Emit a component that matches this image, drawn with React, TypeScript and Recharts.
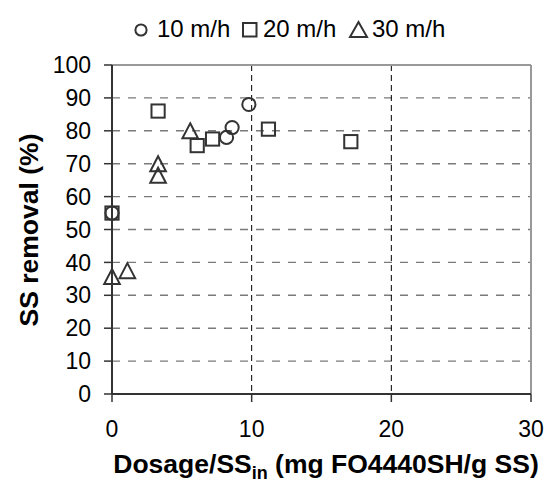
import React from "react";
import {
  ScatterChart,
  Scatter,
  XAxis,
  YAxis,
  CartesianGrid,
  ReferenceLine,
} from "recharts";

const xTicks = [0, 10, 20, 30];
const yTicks = [0, 10, 20, 30, 40, 50, 60, 70, 80, 90, 100];
const seriesNames = ["10 m/h", "20 m/h", "30 m/h"];

const series10 = [
  { x: 0, y: 55 },
  { x: 8.2, y: 78 },
  { x: 8.6, y: 81 },
  { x: 9.8, y: 88 },
];
const series20 = [
  { x: 0, y: 55 },
  { x: 3.3, y: 86 },
  { x: 6.1, y: 75.5 },
  { x: 7.2, y: 77.5 },
  { x: 11.2, y: 80.5 },
  { x: 17.1, y: 76.7 },
];
const series30 = [
  { x: 0, y: 35.7 },
  { x: 1.1, y: 37.5 },
  { x: 3.3, y: 70 },
  { x: 3.3, y: 66.5 },
  { x: 5.6, y: 80 },
];

const MARK = "#333333";
const FONT = "'Liberation Sans', Arial, sans-serif";

const CircleShape = (p: any) => (
  <circle cx={p.cx} cy={p.cy} r={6.6} fill="none" stroke={MARK} strokeWidth={2} />
);
const SquareShape = (p: any) => (
  <rect x={p.cx - 6.6} y={p.cy - 6.6} width={13.2} height={13.2} fill="none" stroke={MARK} strokeWidth={2} />
);
const TriangleShape = (p: any) => (
  <polygon
    points={`${p.cx},${p.cy - 7.5} ${p.cx + 7.8},${p.cy + 7.5} ${p.cx - 7.8},${p.cy + 7.5}`}
    fill="none"
    stroke={MARK}
    strokeWidth={2}
    strokeLinejoin="miter"
  />
);

const Legend = () => (
  <svg width={552} height={50} style={{ position: "absolute", left: 0, top: 0 }}>
    <g fontFamily={FONT} fontSize={24} fill="#000">
      <circle cx={141} cy={30} r={5.6} fill="none" stroke={MARK} strokeWidth={2} />
      <text x={157} y={37}>{seriesNames[0]}</text>
      <rect x={243} y={23} width={13.5} height={13.5} fill="none" stroke={MARK} strokeWidth={2} />
      <text x={263} y={37}>{seriesNames[1]}</text>
      <polygon points="358.5,22 367,37 350,37" fill="none" stroke={MARK} strokeWidth={2} />
      <text x={372} y={37}>{seriesNames[2]}</text>
    </g>
  </svg>
);

export default function App() {
  return (
    <div style={{ position: "absolute", left: 0, top: 0, width: 552, height: 482, background: "#fff" }}>
      <ScatterChart
        width={552}
        height={482}
        margin={{ top: 65, right: 21, bottom: 38, left: 52 }}
      >
        <CartesianGrid vertical={false} stroke="#7a7a7a" strokeWidth={1.4} strokeDasharray="8 8" />
        <CartesianGrid horizontal={false} stroke="#000" strokeWidth={1} strokeDasharray="6 4" />
        <ReferenceLine y={100} stroke="#999" strokeWidth={2} ifOverflow="visible" />
        <ReferenceLine x={30} stroke="#999" strokeWidth={2} ifOverflow="visible" />
        <XAxis
          type="number"
          dataKey="x"
          domain={[0, 30]}
          ticks={xTicks}
          interval={0}
          height={50}
          tickSize={8}
          tickMargin={19}
          axisLine={{ stroke: MARK, strokeWidth: 2 }}
          tickLine={{ stroke: MARK, strokeWidth: 1.5 }}
          tick={{ fill: "#000", fontSize: 23, fontFamily: FONT }}
          label={{
            content: () => (
              <text x={326} y={473} textAnchor="middle" fontFamily={FONT} fontSize={26.5} fontWeight="bold" fill="#000">
                Dosage/SS
                <tspan fontSize={18} dy={6}>in</tspan>
                <tspan dy={-6}> (mg FO4440SH/g SS)</tspan>
              </text>
            ),
          }}
        />
        <YAxis
          type="number"
          dataKey="y"
          domain={[0, 100]}
          ticks={yTicks}
          interval={0}
          width={60}
          tickSize={8}
          tickMargin={13}
          axisLine={{ stroke: MARK, strokeWidth: 2 }}
          tickLine={{ stroke: MARK, strokeWidth: 1.5 }}
          tick={{ fill: "#000", fontSize: 23, fontFamily: FONT }}
          label={{
            content: () => (
              <text
                x={28}
                y={230}
                dy="0.36em"
                transform="rotate(-90, 28, 230)"
                textAnchor="middle"
                fontFamily={FONT}
                fontSize={26.5}
                fontWeight="bold"
                fill="#000"
              >
                SS removal (%)
              </text>
            ),
          }}
        />
        <Scatter name={seriesNames[0]} data={series10} shape={CircleShape} isAnimationActive={false} />
        <Scatter name={seriesNames[1]} data={series20} shape={SquareShape} isAnimationActive={false} />
        <Scatter name={seriesNames[2]} data={series30} shape={TriangleShape} isAnimationActive={false} />
      </ScatterChart>
      <Legend />
    </div>
  );
}
